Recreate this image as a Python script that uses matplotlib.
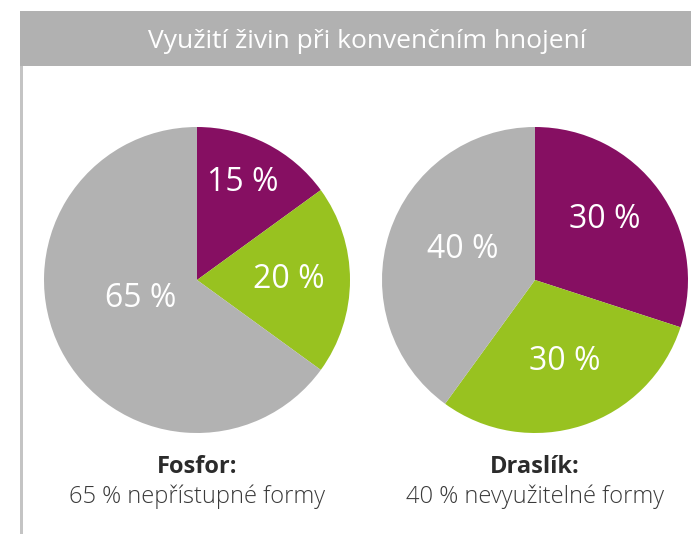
import matplotlib.pyplot as plt
from matplotlib.patches import Rectangle
import numpy as np

plt.rcParams['font.family'] = ['Open Sans', 'DejaVu Sans']

# nutrient shares: used, plant-available, inaccessible
segments = ['využito', 'dostupné', 'nepřístupné']
fosfor = [15, 20, 65]
draslik = [30, 30, 40]
colors = ['#860f62', '#98c220', '#b2b2b2']

nutrients = ['Fosfor:', 'Draslík:']
captions = ['65 % nepřístupné formy', '40 % nevyužitelné formy']
title = 'Využití živin při konvenčním hnojení'

W, H = 691, 534
fig = plt.figure(figsize=(W / 100, H / 100), dpi=100)
ax = fig.add_axes([0, 0, 1, 1])


def draw_pie(ax, values, center, radius, label_pos):
    wedges, _ = ax.pie(values, colors=colors, startangle=90, counterclock=False,
                       center=center, radius=radius,
                       wedgeprops=dict(linewidth=0))
    # label_pos: (distance as fraction of radius, angular nudge in degrees)
    for w, v, (d, nudge) in zip(wedges, values, label_pos):
        ang = np.deg2rad((w.theta1 + w.theta2) / 2 + nudge)
        ax.text(center[0] + d * radius * np.cos(ang),
                center[1] + d * radius * np.sin(ang),
                f'{v} %', color='white', fontsize=23,
                ha='center', va='center')


r = 153
draw_pie(ax, fosfor, (197, H - 280), r, [(0.70, 2), (0.60, 0), (0.39, -9)])
draw_pie(ax, draslik, (535, H - 280), r, [(0.60, 5), (0.57, 2), (0.51, -5)])

# header band and left rule
ax.add_patch(Rectangle((20, H - 66), W - 20, 55, color='#b1b1b1', lw=0))
ax.add_patch(Rectangle((20, 0), 3, H - 66, color='#c4c4c4', lw=0))
ax.text(367, H - 41, title, color='white', fontsize=19, ha='center', va='center')

for x, name, cap in zip([197, 535], nutrients, captions):
    ax.text(x, H - 467, name, color='#2b2b2b', fontsize=17, fontweight='bold',
            ha='center', va='center')
    ax.text(x, H - 497, cap, color='#3a3a3a', fontsize=17, fontweight='light',
            ha='center', va='center')

ax.set_xlim(0, W)
ax.set_ylim(0, H)
ax.set_aspect('auto')
ax.axis('off')

fig.savefig('out.png', dpi=100)
